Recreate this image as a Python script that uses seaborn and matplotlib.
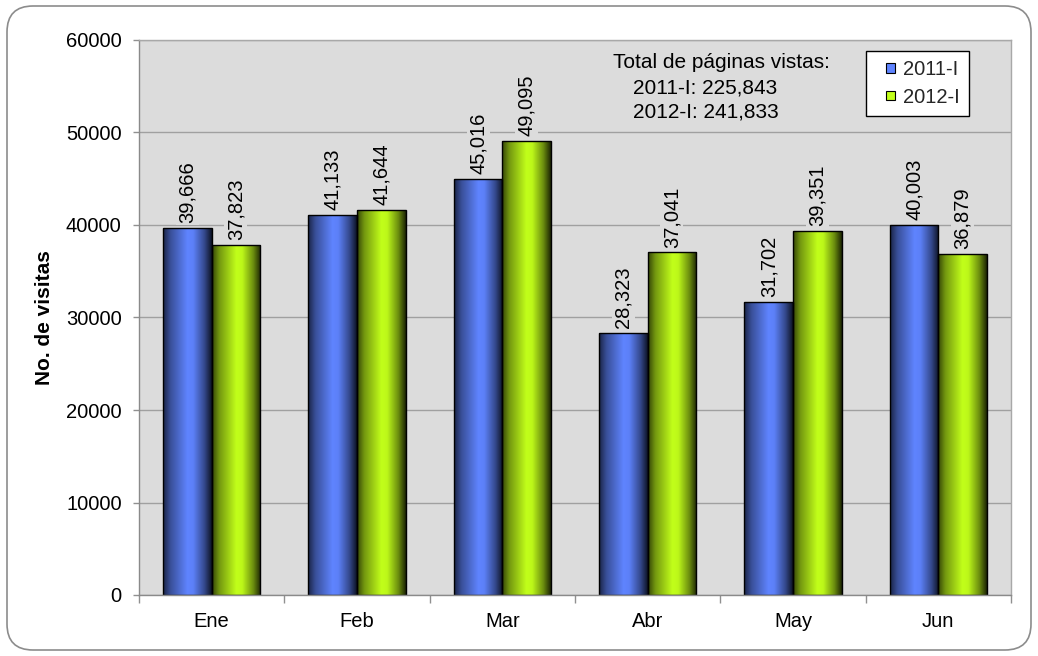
import numpy as np
import pandas as pd
import matplotlib
matplotlib.use("Agg")
import matplotlib.pyplot as plt
import seaborn as sns
from matplotlib.patches import FancyBboxPatch, Patch, Rectangle
from matplotlib.legend_handler import HandlerPatch
from matplotlib.colors import to_rgb

# ---------------- data ----------------
meses = ["Ene", "Feb", "Mar", "Abr", "May", "Jun"]
series = ["2011-I", "2012-I"]
visitas_2011 = [39666, 41133, 45016, 28323, 31702, 40003]
visitas_2012 = [37823, 41644, 49095, 37041, 39351, 36879]
y_ticks = [0, 10000, 20000, 30000, 40000, 50000, 60000]
y_label = "No. de visitas"
nota = ["Total de páginas vistas:", "2011-I: 225,843", "2012-I: 241,833"]

colores = ["#5f84ff", "#c2ff1a"]
fondo = "#dcdcdc"
FS = 14.5

df = pd.DataFrame({
    "mes": meses * 2,
    "serie": [series[0]] * len(meses) + [series[1]] * len(meses),
    "visitas": visitas_2011 + visitas_2012,
})

sns.set_theme(style="ticks")
plt.rcParams["font.family"] = ["Liberation Sans", "DejaVu Sans"]

W, H = 1038, 656
fig = plt.figure(figsize=(W / 100, H / 100), dpi=100)
fig.patch.set_facecolor("white")

# background canvas in pixel units for the rounded outer frame
bg = fig.add_axes([0, 0, 1, 1], zorder=0)
bg.set_xlim(0, W)
bg.set_ylim(0, H)
bg.axis("off")
bg.add_patch(FancyBboxPatch((7, 6), 1024, 644,
                            boxstyle="round,pad=0,rounding_size=26",
                            fc="white", ec="#8c8c8c", lw=1.2))

ax = fig.add_axes([139 / W, (H - 595) / H, 872 / W, 555 / H], zorder=1)
ax.set_facecolor(fondo)

sns.barplot(data=df, x="mes", y="visitas", hue="serie", order=meses,
            hue_order=series, palette=colores, width=0.668, gap=0,
            saturation=1, edgecolor="black", linewidth=1, legend=False,
            ax=ax)


def gradiente(color, n=96):
    t = np.linspace(0, 1, n)
    f = np.interp(t, [0.0, 0.15, 0.5, 0.62, 0.85, 1.0],
                  [0.28, 0.6, 1.0, 0.97, 0.55, 0.15])
    rgb = np.array(to_rgb(color))
    return np.clip(f[:, None] * rgb[None, :], 0, 1)[None, :, :]


for cont, col in zip(ax.containers, colores):
    g = gradiente(col)
    for bar in cont:
        x0, y0 = bar.get_x(), bar.get_y()
        w, h = bar.get_width(), bar.get_height()
        im = ax.imshow(g, extent=[x0, x0 + w, y0, y0 + h], aspect="auto",
                       zorder=bar.get_zorder() - 0.05, interpolation="bilinear")
        im.set_clip_path(bar)
        bar.set_facecolor("none")

for cont, vals in zip(ax.containers, [visitas_2011, visitas_2012]):
    ax.bar_label(cont, labels=[f"{v:,}" for v in vals], rotation=90,
                 padding=3.5, fontsize=FS, color="black",
                 bbox=dict(fc=fondo, ec="none", pad=1.5))

ax.set_xlim(-0.5, len(meses) - 0.5)
ax.set_ylim(y_ticks[0], y_ticks[-1])
ax.set_yticks(y_ticks)
ax.set_yticklabels([str(v) for v in y_ticks])
ax.set_xticks(np.arange(-0.5, len(meses), 1), minor=True)

ax.set_axisbelow(True)
ax.yaxis.grid(True, color="#a0a0a0", lw=1)
ax.xaxis.grid(False)

ax.tick_params(axis="x", which="major", length=0, pad=12, labelsize=FS,
               colors="black")
ax.tick_params(axis="x", which="minor", length=5.5, width=1,
               color="#909090", direction="out", bottom=True)
ax.tick_params(axis="y", which="major", length=4.5, width=1,
               color="#909090", direction="out", pad=8, labelsize=FS,
               labelcolor="black", left=True)

for s in ["left", "bottom"]:
    ax.spines[s].set_color("#8a8a8a")
    ax.spines[s].set_linewidth(1)
for s in ["top", "right"]:
    ax.spines[s].set_visible(True)
    ax.spines[s].set_color("#a8a8a8")
    ax.spines[s].set_linewidth(1)

ax.set_xlabel("")
ax.set_ylabel(y_label, fontsize=15, fontweight="bold", color="black")
ax.yaxis.set_label_coords((54 - 139) / 872, 0.5)

# annotation text
fig.text(613, H - 68, nota[0], transform=bg.transData, fontsize=15,
         ha="left", va="baseline", color="black")
fig.text(633, H - 93, nota[1], transform=bg.transData, fontsize=15,
         ha="left", va="baseline", color="black")
fig.text(633, H - 118, nota[2], transform=bg.transData, fontsize=15,
         ha="left", va="baseline", color="black")


class SmallSquare(HandlerPatch):
    def create_artists(self, legend, orig_handle, xdescent, ydescent,
                       width, height, fontsize, trans):
        s = 6.8
        p = Rectangle((-xdescent + width - s, -ydescent + (height - s) / 2),
                      s, s, facecolor=orig_handle.get_facecolor(),
                      edgecolor="black", lw=0.8, transform=trans)
        return [p]


handles = [Patch(facecolor=c, edgecolor="black") for c in colores]
leg = fig.legend(handles, series, loc="upper left",
                 bbox_to_anchor=(866, H - 51), bbox_transform=bg.transData,
                 frameon=True, fancybox=False, edgecolor="black",
                 framealpha=1, fontsize=FS, handlelength=1.0,
                 handleheight=0.7, handletextpad=0.4, labelspacing=0.42,
                 borderpad=0.46, borderaxespad=0,
                 handler_map={Patch: SmallSquare()})
leg.get_frame().set_linewidth(1)
leg.set_zorder(5)

fig.savefig("out.png", dpi=100, facecolor="white")
